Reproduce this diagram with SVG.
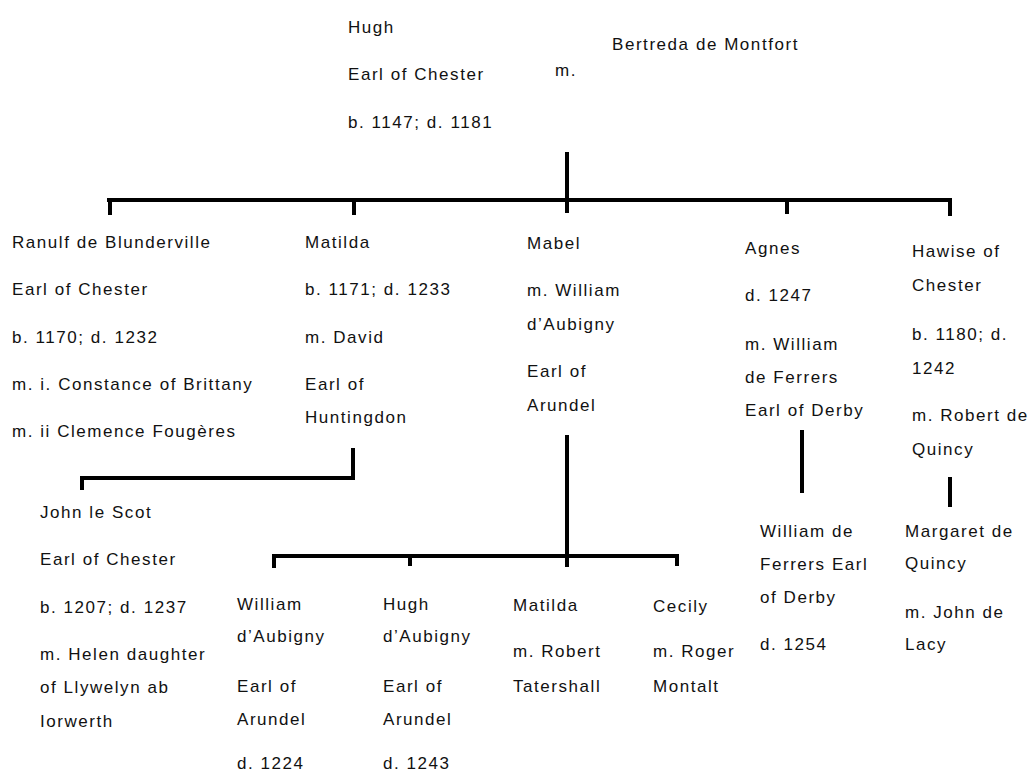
<svg xmlns="http://www.w3.org/2000/svg" width="1030" height="771" viewBox="0 0 1030 771">
<style>
text{font-family:"Liberation Sans",Arial,sans-serif;font-size:17px;letter-spacing:1.55px;fill:#111}
.ln{stroke:#000;stroke-width:4;fill:none;stroke-linecap:butt;stroke-linejoin:miter}
</style>
<rect width="1030" height="771" fill="#fff"/>
<g id="connectors">
<path class="ln" d="M567 152V213"/>
<path class="ln" d="M107 200H950V216"/>
<path class="ln" d="M110 200V215"/>
<path class="ln" d="M354 200V215"/>
<path class="ln" d="M787 200V214"/>
<path class="ln" d="M353 448V478H82V490"/>
<path class="ln" d="M567 435V567"/>
<path class="ln" d="M274 568V556H677V566"/>
<path class="ln" d="M410 556V566"/>
<path class="ln" d="M802 430V493"/>
<path class="ln" d="M950 477V507"/>
</g>
<g id="hugh">
<text x="348" y="33">Hugh</text>
<text x="348" y="80">Earl of Chester</text>
<text x="348" y="128">b. 1147; d. 1181</text>
</g>
<g id="marriage"><text x="555" y="76">m.</text></g>
<g id="bertreda"><text x="612" y="50">Bertreda de Montfort</text></g>
<g id="ranulf">
<text x="12" y="248">Ranulf de Blunderville</text>
<text x="12" y="295">Earl of Chester</text>
<text x="12" y="343">b. 1170; d. 1232</text>
<text x="12" y="390">m. i. Constance of Brittany</text>
<text x="12" y="437">m. ii Clemence Fougères</text>
</g>
<g id="matilda">
<text x="305" y="248">Matilda</text>
<text x="305" y="295">b. 1171; d. 1233</text>
<text x="305" y="343">m. David</text>
<text x="305" y="390">Earl of</text>
<text x="305" y="423">Huntingdon</text>
</g>
<g id="mabel">
<text x="527" y="249">Mabel</text>
<text x="527" y="296">m. William</text>
<text x="527" y="330">d’Aubigny</text>
<text x="527" y="377">Earl of</text>
<text x="527" y="411">Arundel</text>
</g>
<g id="agnes">
<text x="745" y="254">Agnes</text>
<text x="745" y="301">d. 1247</text>
<text x="745" y="350">m. William</text>
<text x="745" y="383">de Ferrers</text>
<text x="745" y="416">Earl of Derby</text>
</g>
<g id="hawise">
<text x="912" y="257">Hawise of</text>
<text x="912" y="291">Chester</text>
<text x="912" y="340">b. 1180; d.</text>
<text x="912" y="374">1242</text>
<text x="912" y="421">m. Robert de</text>
<text x="912" y="455">Quincy</text>
</g>
<g id="john">
<text x="40" y="518">John le Scot</text>
<text x="40" y="565">Earl of Chester</text>
<text x="40" y="613">b. 1207; d. 1237</text>
<text x="40" y="660">m. Helen daughter</text>
<text x="40" y="693">of Llywelyn ab</text>
<text x="40" y="727">Iorwerth</text>
</g>
<g id="william-daubigny">
<text x="237" y="610">William</text>
<text x="237" y="642">d’Aubigny</text>
<text x="237" y="692">Earl of</text>
<text x="237" y="725">Arundel</text>
<text x="237" y="769">d. 1224</text>
</g>
<g id="hugh-daubigny">
<text x="383" y="610">Hugh</text>
<text x="383" y="642">d’Aubigny</text>
<text x="383" y="692">Earl of</text>
<text x="383" y="725">Arundel</text>
<text x="383" y="769">d. 1243</text>
</g>
<g id="matilda-2">
<text x="513" y="611">Matilda</text>
<text x="513" y="657">m. Robert</text>
<text x="513" y="692">Tatershall</text>
</g>
<g id="cecily">
<text x="653" y="612">Cecily</text>
<text x="653" y="657">m. Roger</text>
<text x="653" y="692">Montalt</text>
</g>
<g id="william-ferrers">
<text x="760" y="537">William de</text>
<text x="760" y="570">Ferrers Earl</text>
<text x="760" y="603">of Derby</text>
<text x="760" y="650">d. 1254</text>
</g>
<g id="margaret">
<text x="905" y="537">Margaret de</text>
<text x="905" y="569">Quincy</text>
<text x="905" y="618">m. John de</text>
<text x="905" y="650">Lacy</text>
</g>
</svg>
